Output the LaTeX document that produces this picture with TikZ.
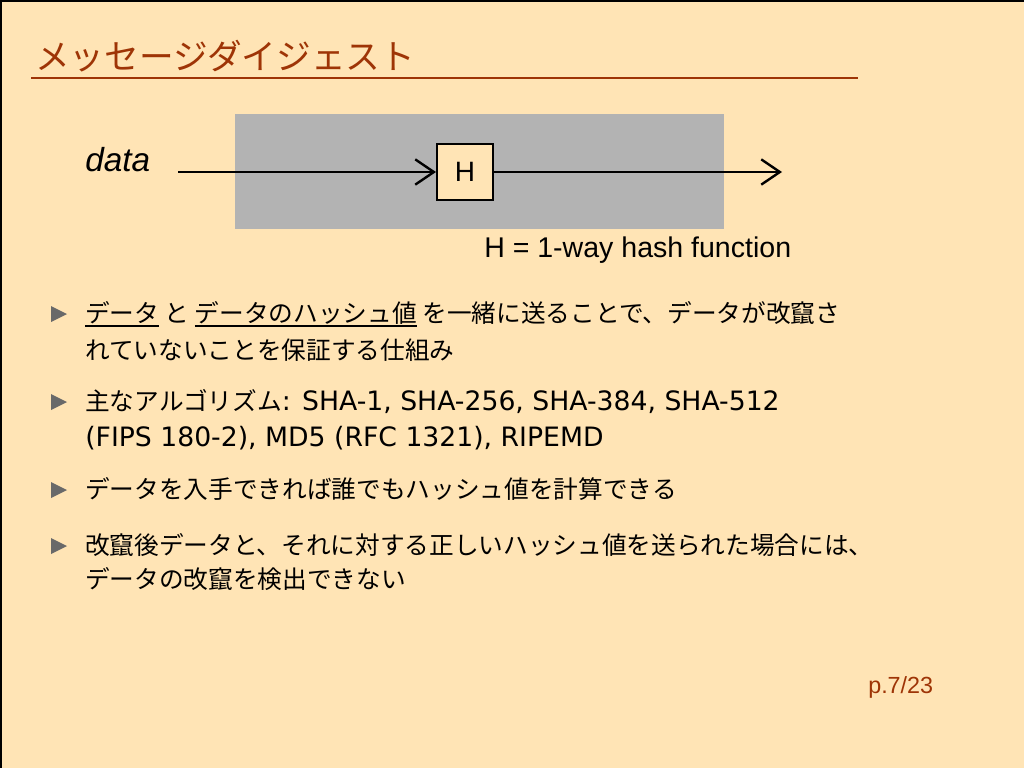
\documentclass[tikz,border=0pt]{standalone}
\usepackage{fontspec}
\newfontfamily\jp{Noto Sans CJK JP}
\newfontfamily\helv{Liberation Sans}
\newfontfamily\breit{DejaVu Sans}
\usetikzlibrary{arrows.meta}
\definecolor{hintergrund}{RGB}{255,228,181}
\definecolor{titelrot}{RGB}{158,52,6}
\definecolor{kastengrau}{RGB}{179,179,179}
\definecolor{punktgrau}{RGB}{105,105,105}
\newcommand{\unter}[1]{\leavevmode\setbox0\hbox{#1}\rlap{\rule[-3.6pt]{\wd0}{1.3pt}}\box0\relax}
\newcommand{\lat}[1]{{\breit\fontsize{20}{22}\selectfont #1}}
\tikzset{
	pfeil/.style={line width=1.8pt, -{Straight Barb[length=14pt, width=19pt, line width=1.8pt]}},
	zeile/.style={anchor=base west, inner sep=0pt, font=\jp\fontsize{18.5}{22}\selectfont},
	hkasten/.style={draw, line width=1.8pt, fill=hintergrund, minimum size=41.7pt, inner sep=0pt, font=\helv\fontsize{21}{24}\selectfont}
}
\begin{document}
\begin{tikzpicture}[x=0.75pt, y=-0.75pt]
	
	%Hintergrund
	\useasboundingbox (0,0) rectangle (1024,768);
	\fill[hintergrund] (0,0) rectangle (1024,768);
	\draw[line width=3pt] (0,768) -- (0,0) -- (1024,0);
	
	%Titel
	\node[anchor=base west, inner sep=0pt, text=titelrot, font=\jp\fontsize{26}{30}\selectfont] (titel) at (35,69) {メッセージダイジェスト};
	\draw[titelrot, line width=1.5pt] (31,78) -- (858,78);
	
	%Hashfunktion
	\fill[kastengrau] (235,114) rectangle (724,229);
	\node[hkasten] (H) at (465,172) {H};
	\coordinate (ein) at (178,172);
	\coordinate (aus) at (782,172);
	\draw[pfeil] (ein) -- (H.west);
	\draw[pfeil] (H.east) -- (aus);
	\node[anchor=base west, inner sep=0pt, font=\helv\itshape\fontsize{25}{30}\selectfont] (daten) at (85,171) {data};
	\node[anchor=base west, inner sep=0pt, font=\helv\fontsize{21.4}{24}\selectfont] (legende) at (484,257) {H = 1-way hash function};
	
	%Aufzaehlung
	\foreach \y in {314,402,490,546}
		\fill[punktgrau] (51,\y-8) -- (67,\y) -- (51,\y+8) -- cycle;
	\node[zeile] (z1) at (85,322) {\unter{データ} と \unter{データのハッシュ値} を一緒に送ることで、データが改竄さ};
	\node[zeile] (z2) at (85,359) {れていないことを保証する仕組み};
	\node[zeile] (z3) at (85,410) {主なアルゴリズム\lat{: SHA-1, SHA-256, SHA-384, SHA-512}};
	\node[zeile] (z4) at (85,446) {\lat{(FIPS 180-2), MD5 (RFC 1321), RIPEMD}};
	\node[zeile] (z5) at (85,498) {データを入手できれば誰でもハッシュ値を計算できる};
	\node[zeile] (z6) at (85,554) {改竄後データと、それに対する正しいハッシュ値を送られた場合には、};
	\node[zeile] (z7) at (85,588) {データの改竄を検出できない};
	
	%Seitenzahl
	\node[anchor=base west, inner sep=0pt, text=titelrot, font=\helv\fontsize{17.5}{20}\selectfont] (seite) at (868,693) {p.7/23};
	
\end{tikzpicture}
\end{document}
